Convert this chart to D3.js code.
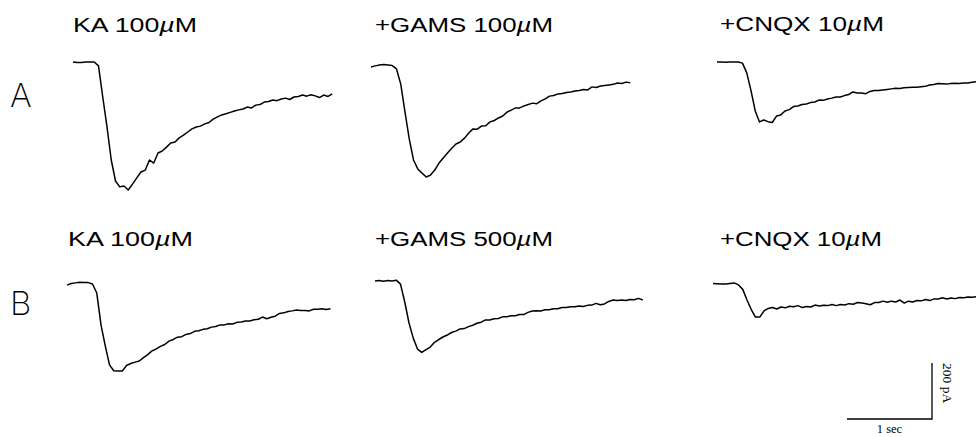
<!DOCTYPE html>
<html>
<head>
<meta charset="utf-8">
<script src="https://cdn.jsdelivr.net/npm/d3@7"></script>
<style>
  html, body { margin: 0; padding: 0; background: #fff; }
  svg { display: block; }
</style>
</head>
<body>
<script>
// Whole-cell currents (pA), one sample every SAMPLE_INTERVAL seconds.
const SAMPLE_INTERVAL = 0.05; // s

const rowLabels = ["A", "B"];
const rowAConditions = ["KA 100µM", "+GAMS 100µM", "+CNQX 10µM"];
const rowBConditions = ["KA 100µM", "+GAMS 500µM", "+CNQX 10µM"];

// Row A: KA 100 µM, then + GAMS 100 µM, then + CNQX 10 µM
const traceA_KA = [0,-2,-2,0,0,0,-14,-125,-232,-350,-425,-446,-443,-457,-436,-414,-393,-386,-350,-361,-325,-318,-304,-289,-286,-271,-261,-250,-239,-232,-229,-221,-216,-204,-196,-189,-185,-180,-175,-171,-168,-161,-164,-154,-152,-143,-141,-136,-138,-132,-129,-134,-125,-123,-118,-122,-117,-121,-127,-118,-123,-114];
const traceA_GAMS = [0,4,7,9,7,5,-7,-61,-161,-257,-332,-364,-379,-393,-386,-368,-343,-325,-307,-290,-275,-268,-254,-236,-221,-222,-211,-210,-196,-191,-182,-175,-161,-154,-146,-146,-139,-134,-129,-131,-121,-114,-104,-102,-96,-95,-91,-89,-86,-84,-80,-82,-71,-73,-68,-66,-64,-62,-57,-59,-54,-56];
const traceA_CNQX = [0,0,-1,0,0,0,-4,-39,-102,-175,-214,-207,-213,-216,-193,-189,-175,-170,-159,-157,-152,-150,-145,-143,-136,-137,-132,-129,-125,-125,-120,-116,-107,-111,-111,-113,-105,-102,-102,-100,-98,-96,-94,-95,-92,-91,-90,-90,-88,-87,-82,-80,-77,-78,-79,-77,-76,-77,-75,-75,-72,-70];

// Row B: KA 100 µM, then + GAMS 500 µM, then + CNQX 10 µM
const traceB_KA = [-4,2,4,6,5,5,0,-32,-146,-221,-289,-310,-311,-311,-291,-284,-279,-275,-263,-252,-239,-232,-223,-216,-204,-198,-190,-188,-180,-177,-169,-167,-162,-160,-154,-152,-146,-146,-142,-143,-137,-136,-132,-132,-128,-126,-118,-124,-119,-115,-105,-103,-98,-96,-93,-95,-95,-96,-90,-90,-88,-91,-88];
const traceB_GAMS = [0,2,-1,2,0,3,-11,-75,-150,-204,-243,-255,-245,-236,-219,-209,-200,-193,-184,-179,-171,-170,-163,-158,-151,-147,-139,-139,-135,-134,-128,-128,-124,-124,-120,-120,-112,-107,-106,-107,-103,-103,-99,-99,-95,-95,-92,-92,-89,-91,-87,-86,-80,-85,-82,-73,-68,-70,-68,-70,-66,-67,-62,-68];
const traceB_CNQX = [0,-1,-2,-2,0,2,-5,-21,-59,-93,-120,-120,-98,-89,-86,-91,-84,-87,-81,-83,-79,-86,-82,-84,-77,-80,-78,-79,-75,-79,-75,-77,-72,-74,-68,-70,-72,-76,-68,-68,-63,-67,-63,-66,-59,-70,-63,-66,-61,-62,-57,-61,-55,-55,-51,-55,-52,-54,-50,-51,-48,-49,-47];

const traces = [
  [traceA_KA, traceA_GAMS, traceA_CNQX],
  [traceB_KA, traceB_GAMS, traceB_CNQX]
];
const conditions = [rowAConditions, rowBConditions];

// Calibration bars
const scaleBarTime = 1;      // s
const scaleBarCurrent = 200; // pA
const scaleBarTimeLabel = "1 sec";
const scaleBarCurrentLabel = "200 pA";

// ---- layout ----
const W = 976, H = 437;
const traceOrigins = [
  [{x: 73, y: 62}, {x: 371, y: 67}, {x: 717, y: 62}],
  [{x: 67, y: 284}, {x: 375, y: 281}, {x: 713, y: 283.5}]
];
const labelLayout = [
  [{x: 73, y: 31.5, w: 124}, {x: 375, y: 31.5, w: 178}, {x: 720, y: 31, w: 164}],
  [{x: 68, y: 246, w: 125}, {x: 375, y: 245.5, w: 178}, {x: 720, y: 245.5, w: 162}]
];
const rowLetterLayout = [{x: 10, y: 107}, {x: 10, y: 315}];
const scaleBarCorner = {x: 932, y: 419};

const svg = d3.select("body").append("svg")
  .attr("width", W).attr("height", H)
  .attr("viewBox", `0 0 ${W} ${H}`);

svg.append("rect").attr("width", W).attr("height", H).attr("fill", "#fff");

// time → horizontal offset, current → vertical offset (downward = inward current)
const x = d3.scaleLinear().domain([0, 1]).range([0, 85]);
const y = d3.scaleLinear().domain([0, -200]).range([0, 56]);

const line = d3.line()
  .x((d, i) => x(i * SAMPLE_INTERVAL))
  .y(d => y(d));

traces.forEach((row, r) => {
  row.forEach((values, c) => {
    const o = traceOrigins[r][c];
    svg.append("g")
      .attr("transform", `translate(${o.x},${o.y})`)
      .append("path")
      .datum(values)
      .attr("d", line)
      .attr("fill", "none")
      .attr("stroke", "#000")
      .attr("stroke-width", 1.5)
      .attr("stroke-linejoin", "round");
  });
});

// Condition labels; the micro sign is set in italic
conditions.forEach((row, r) => {
  row.forEach((label, c) => {
    const L = labelLayout[r][c];
    const t = svg.append("text")
      .attr("x", L.x).attr("y", L.y)
      .attr("font-family", "'Liberation Sans', Arial, sans-serif")
      .attr("font-size", 19.5)
      .attr("fill", "#000")
      .attr("textLength", L.w)
      .attr("lengthAdjust", "spacingAndGlyphs");
    const parts = label.split("µ");
    t.append("tspan").text(parts[0]);
    t.append("tspan").attr("font-style", "italic").text("µ");
    t.append("tspan").text(parts[1]);
  });
});

// Row letters
rowLabels.forEach((lab, r) => {
  svg.append("text")
    .attr("x", rowLetterLayout[r].x).attr("y", rowLetterLayout[r].y)
    .attr("font-family", "Inter, 'Liberation Sans', sans-serif")
    .attr("font-weight", 200)
    .attr("font-size", 33)
    .attr("fill", "#000")
    .text(lab);
});

// Calibration bars built from the same scales as the traces
const sb = svg.append("g").attr("transform", `translate(${scaleBarCorner.x},${scaleBarCorner.y})`);
sb.append("path")
  .attr("d", `M${-x(scaleBarTime)},0H0V${-y(-scaleBarCurrent)}`)
  .attr("fill", "none").attr("stroke", "#000").attr("stroke-width", 1.3);
sb.append("text")
  .attr("x", -x(scaleBarTime) / 2).attr("y", 14)
  .attr("text-anchor", "middle")
  .attr("font-family", "'Liberation Serif', 'Times New Roman', serif")
  .attr("font-size", 12.5)
  .attr("fill", "#000")
  .text(scaleBarTimeLabel);
sb.append("text")
  .attr("transform", `translate(11,${-y(-scaleBarCurrent)}) rotate(90)`)
  .attr("x", 0).attr("y", 0)
  .attr("font-family", "'Liberation Serif', 'Times New Roman', serif")
  .attr("font-size", 13.5)
  .attr("fill", "#000")
  .text(scaleBarCurrentLabel);
</script>
</body>
</html>
